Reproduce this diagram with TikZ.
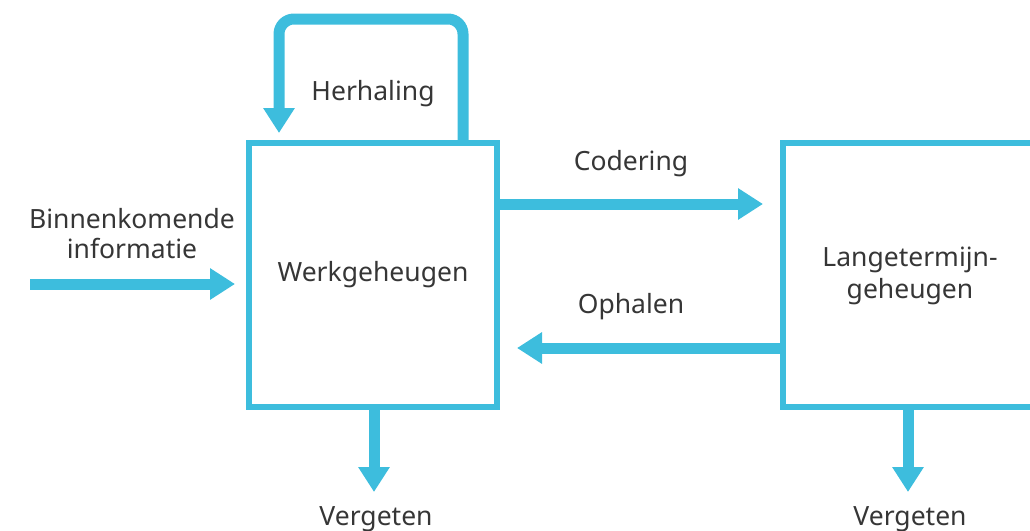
\documentclass[tikz,border=0pt]{standalone}
\usepackage{fontspec}
\setmainfont{Noto Sans}
\usetikzlibrary{arrows.meta}
\definecolor{flow}{HTML}{3DBDDD}
\definecolor{ink}{HTML}{363636}
\tikzset{
  store/.style={draw=flow, line width=6pt, rectangle, outer sep=0pt, inner sep=0pt,
    align=center, text=ink, font=\fontsize{26.5}{32}\selectfont},
  flowarrow/.style={draw=flow, line width=11pt,
    -{Triangle[width=30pt,length=25pt]}},
  lbl/.style={text=ink, font=\fontsize{26.5}{30}\selectfont, align=center, inner sep=0pt}
}
\begin{document}
\begin{tikzpicture}[x=1pt,y=-1pt]
\useasboundingbox (0,0) rectangle (1030,530);
\begin{scope}
\clip (0,0) rectangle (1030,530);
% the two memory stores
\node[store, minimum width=248pt, minimum height=264pt] (wm) at (373,275) {\raisebox{-2pt}{Werkgeheugen}};
\node[store, minimum width=254pt, minimum height=264pt] (ltm) at (910,275) {};
\node[lbl, font=\fontsize{26.5}{32}\selectfont] (ltmtext) at (910,276) {Langetermijn-\\geheugen};

% incoming information
\coordinate (in) at (30,284);
\draw[flowarrow] (in) -- ([xshift=-14pt,yshift=-9pt]wm.west);
\node[lbl] (inlbl) at (132,234) {Binnenkomende\\informatie};

% rehearsal loop on top of working memory
\draw[flowarrow, rounded corners=15pt]
  ([xshift=90pt]wm.north) -- ++(0,-124) -| ([xshift=-94pt,yshift=10pt]wm.north);
\node[lbl] (rehearse) at (373,94) {Herhaling};

% encoding and retrieval between the stores
\draw[flowarrow] ([yshift=71pt]wm.east) -- ([xshift=-20pt,yshift=71pt]ltm.west);
\node[lbl] (enc) at (631,164) {Codering};
\draw[flowarrow] ([yshift=-73pt]ltm.west) -- ([xshift=20pt,yshift=-73pt]wm.east);
\node[lbl] (ret) at (631,307) {Ophalen};

% forgetting
\coordinate (f1) at (374,492);
\coordinate (f2) at (908,492);
\draw[flowarrow] (wm.south -| f1) -- (f1);
\draw[flowarrow] (ltm.south -| f2) -- (f2);
\node[lbl] (v1) at (376,519) {Vergeten};
\node[lbl] (v2) at (910,519) {Vergeten};
\end{scope}
\end{tikzpicture}
\end{document}
